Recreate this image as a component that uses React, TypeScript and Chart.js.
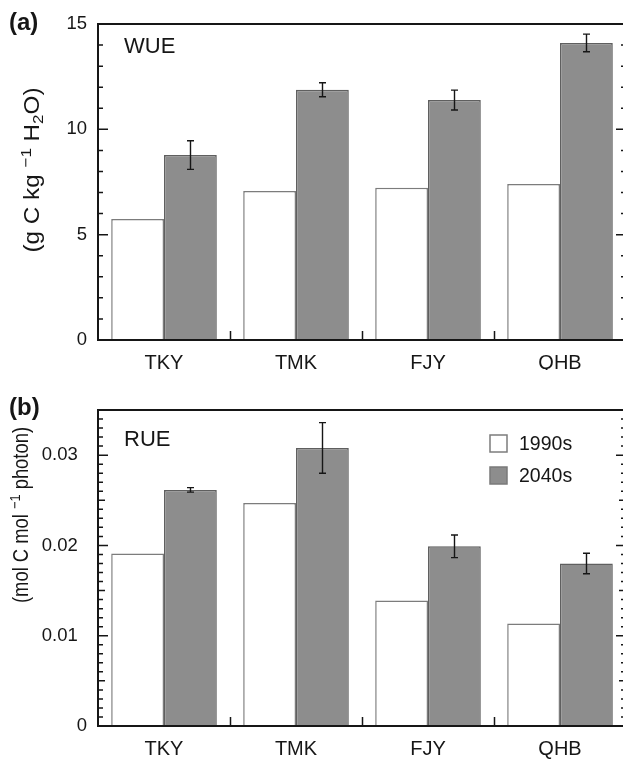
import React, { useEffect, useRef } from "react";
import { Chart, registerables } from "chart.js";

Chart.register(...registerables);

// ---------------- data ----------------
const sites = ["TKY", "TMK", "FJY", "QHB"];
const seriesNames = ["1990s", "2040s"];

const wue1990s = [5.74, 7.07, 7.23, 7.4];
const wue2040s = [8.78, 11.88, 11.39, 14.1];
const wue2040sErr = [0.68, 0.33, 0.47, 0.42];
const wueTicks = [0, 5, 10, 15];

const rue1990s = [0.0191, 0.0247, 0.0139, 0.01135];
const rue2040s = [0.02615, 0.0308, 0.0199, 0.018];
const rue2040sErr = [0.00025, 0.0028, 0.00125, 0.00114];
const rueTicks = [0, 0.01, 0.02, 0.03];

// ---------------- styles ----------------
const FONT = "'Liberation Sans', Arial, Helvetica, sans-serif";
const INK = "#161616";
const WHITE_FILL = "#ffffff";
const WHITE_EDGE = "#7c7c7c";
const GRAY_FILL = "#8d8d8d";
const GRAY_EDGE = "#5f5f5f";

type Seg = { text: string; scale: number; dy: number };

function drawRich(ctx: CanvasRenderingContext2D, segs: Seg[], size: number, cx: number, cy: number, target: number) {
  ctx.save();
  let w = 0;
  for (const s of segs) {
    ctx.font = `${size * s.scale}px ${FONT}`;
    w += ctx.measureText(s.text).width;
  }
  const stretch = target / w;
  ctx.translate(cx, cy);
  ctx.rotate(-Math.PI / 2);
  ctx.scale(stretch, 1);
  ctx.fillStyle = INK;
  ctx.textBaseline = "middle";
  ctx.textAlign = "left";
  let x = -w / 2;
  for (const s of segs) {
    ctx.font = `${size * s.scale}px ${FONT}`;
    ctx.fillText(s.text, x, s.dy * size);
    x += ctx.measureText(s.text).width;
  }
  ctx.restore();
}

const decorPlugin = {
  id: "decor",
  afterDraw(chart: any, _args: any, o: any) {
    const { ctx, chartArea: a, scales } = chart;
    const x = scales.x;
    const y = scales.y;
    ctx.save();

    // error bars
    const meta = chart.getDatasetMeta(o.errDataset);
    const ds = chart.data.datasets[o.errDataset];
    ctx.strokeStyle = INK;
    ctx.lineWidth = 1.4;
    meta.data.forEach((el: any, i: number) => {
      const v = ds.data[i];
      const e = o.errors[i];
      const px = Math.round(el.x) + 0.5;
      const t = y.getPixelForValue(v + e);
      const b = y.getPixelForValue(v - e);
      ctx.beginPath();
      ctx.moveTo(px, t);
      ctx.lineTo(px, b);
      ctx.moveTo(px - 3.5, t);
      ctx.lineTo(px + 3.5, t);
      ctx.moveTo(px - 3.5, b);
      ctx.lineTo(px + 3.5, b);
      ctx.stroke();
    });

    // frame
    ctx.lineWidth = 2;
    ctx.strokeStyle = INK;
    ctx.strokeRect(a.left, a.top, a.right - a.left, a.bottom - a.top);

    // y ticks (inward, both sides)
    ctx.lineWidth = 1.5;
    const n = Math.round((y.max - y.min) / o.minorStep);
    const majorEvery = Math.round(o.majorStep / o.minorStep);
    const midEvery = o.midStep ? Math.round(o.midStep / o.minorStep) : 0;
    ctx.beginPath();
    for (let i = 1; i < n; i++) {
      const v = y.min + i * o.minorStep;
      const py = y.getPixelForValue(v);
      let len = 5;
      if (i % majorEvery === 0) len = 10;
      else if (midEvery && i % midEvery === 0) len = 7;
      ctx.moveTo(a.left, py);
      ctx.lineTo(a.left + len, py);
      ctx.moveTo(a.right, py);
      ctx.lineTo(a.right - len, py);
    }
    // x category boundary ticks
    for (let i = 1; i < x.ticks.length; i++) {
      const px = Math.round((x.getPixelForTick(i - 1) + x.getPixelForTick(i)) / 2) + 0.5;
      ctx.moveTo(px, a.bottom);
      ctx.lineTo(px, a.bottom - 9);
    }
    ctx.stroke();

    // panel inner title
    ctx.fillStyle = INK;
    ctx.font = `22px ${FONT}`;
    ctx.textAlign = "left";
    ctx.textBaseline = "alphabetic";
    ctx.fillText(o.panelTitle, a.left + o.panelTitleDx, a.top + o.panelTitleDy);

    // panel letter
    ctx.font = `bold 24px ${FONT}`;
    ctx.fillText(o.letter, 9, o.letterBaseline);

    // y title
    drawRich(ctx, o.yTitle, o.yTitleSize, o.yTitleX, o.yTitleY, o.yTitleLen);

    // legend
    if (o.legend) {
      const lx = a.left + 392;
      const datasets = chart.data.datasets;
      datasets.forEach((d: any, i: number) => {
        const top = a.top + 25 + i * 32;
        ctx.fillStyle = d.backgroundColor;
        ctx.fillRect(lx, top, 17, 17);
        ctx.strokeStyle = i === 0 ? WHITE_EDGE : "#7a7a7a";
        ctx.lineWidth = 1.5;
        ctx.strokeRect(lx, top, 17, 17);
        ctx.fillStyle = INK;
        ctx.font = `19.5px ${FONT}`;
        ctx.fillText(d.label, lx + 29, top + 15);
      });
    }
    ctx.restore();
  },
};

function makeConfig(p: any) {
  return {
    type: "bar",
    data: {
      labels: sites,
      datasets: [
        {
          label: seriesNames[0],
          data: p.a,
          backgroundColor: WHITE_FILL,
          borderColor: WHITE_EDGE,
          borderWidth: 1.5,
        },
        {
          label: seriesNames[1],
          data: p.b,
          backgroundColor: GRAY_FILL,
          borderColor: GRAY_EDGE,
          borderWidth: 1.5,
        },
      ],
    },
    options: {
      responsive: false,
      animation: false,
      devicePixelRatio: 1,
      layout: { padding: { top: p.padTop, right: 4, left: 0, bottom: 0 } },
      datasets: { bar: { categoryPercentage: 0.8, barPercentage: 1.0 } },
      plugins: {
        legend: { display: false },
        tooltip: { enabled: false },
        decor: p.decor,
      },
      scales: {
        x: {
          grid: { display: false, drawTicks: false },
          border: { display: false },
          ticks: {
            color: INK,
            font: { family: FONT, size: 20 },
            padding: 11,
            maxRotation: 0,
            autoSkip: false,
          },
          afterFit(s: any) {
            s.height = p.xHeight;
          },
        },
        y: {
          min: 0,
          max: p.max,
          grid: { display: false, drawTicks: false },
          border: { display: false },
          ticks: {
            stepSize: p.step,
            includeBounds: false,
            color: INK,
            font: { family: FONT, size: 18.5 },
            padding: 11,
            callback: (v: number) => {
              const t = p.ticks.find((k: number) => Math.abs(k - v) < 1e-9);
              return t === undefined ? "" : p.fmt(t);
            },
          },
          afterFit(s: any) {
            s.width = 98;
          },
        },
      },
    },
    plugins: [decorPlugin],
  };
}

const topConfig = () =>
  makeConfig({
    a: wue1990s,
    b: wue2040s,
    max: 15,
    step: 5,
    ticks: wueTicks,
    fmt: (t: number) => String(t),
    padTop: 24,
    xHeight: 30,
    decor: {
      errDataset: 1,
      errors: wue2040sErr,
      minorStep: 1,
      majorStep: 5,
      midStep: 0,
      panelTitle: "WUE",
      panelTitleDx: 26,
      panelTitleDy: 29,
      letter: "(a)",
      letterBaseline: 30,
      yTitle: [
        { text: "(g C kg ", scale: 1, dy: 0 },
        { text: "\u22121", scale: 0.7, dy: -0.3 },
        { text: " H", scale: 1, dy: 0 },
        { text: "2", scale: 0.7, dy: 0.25 },
        { text: "O)", scale: 1, dy: 0 },
      ],
      yTitleSize: 21.5,
      yTitleX: 33,
      yTitleY: 170,
      yTitleLen: 165,
      legend: false,
    },
  });

const bottomConfig = () =>
  makeConfig({
    a: rue1990s,
    b: rue2040s,
    max: 0.035,
    step: 0.01,
    ticks: rueTicks,
    fmt: (t: number) => (t === 0 ? "0" : t.toFixed(2) + "\u2002"),
    padTop: 40,
    xHeight: 36,
    decor: {
      errDataset: 1,
      errors: rue2040sErr,
      minorStep: 0.001,
      majorStep: 0.01,
      midStep: 0.005,
      panelTitle: "RUE",
      panelTitleDx: 26,
      panelTitleDy: 36,
      letter: "(b)",
      letterBaseline: 45,
      yTitle: [
        { text: "(mol C mol ", scale: 1, dy: 0 },
        { text: "\u22121", scale: 0.7, dy: -0.3 },
        { text: " photon)", scale: 1, dy: 0 },
      ],
      yTitleSize: 21.5,
      yTitleX: 22,
      yTitleY: 145,
      yTitleLen: 176,
      legend: true,
    },
  });

export default function App() {
  const r1 = useRef<HTMLCanvasElement>(null);
  const r2 = useRef<HTMLCanvasElement>(null);

  useEffect(() => {
    const c1 = new Chart(r1.current as HTMLCanvasElement, topConfig() as any);
    const c2 = new Chart(r2.current as HTMLCanvasElement, bottomConfig() as any);
    return () => {
      c1.destroy();
      c2.destroy();
    };
  }, []);

  return (
    <div
      style={{
        position: "fixed",
        left: 0,
        top: 0,
        width: 623,
        height: 762,
        overflow: "hidden",
        background: "#ffffff",
      }}
    >
      <canvas ref={r1} width={630} height={370} style={{ position: "absolute", left: 0, top: 0 }} />
      <canvas ref={r2} width={630} height={392} style={{ position: "absolute", left: 0, top: 370 }} />
    </div>
  );
}
